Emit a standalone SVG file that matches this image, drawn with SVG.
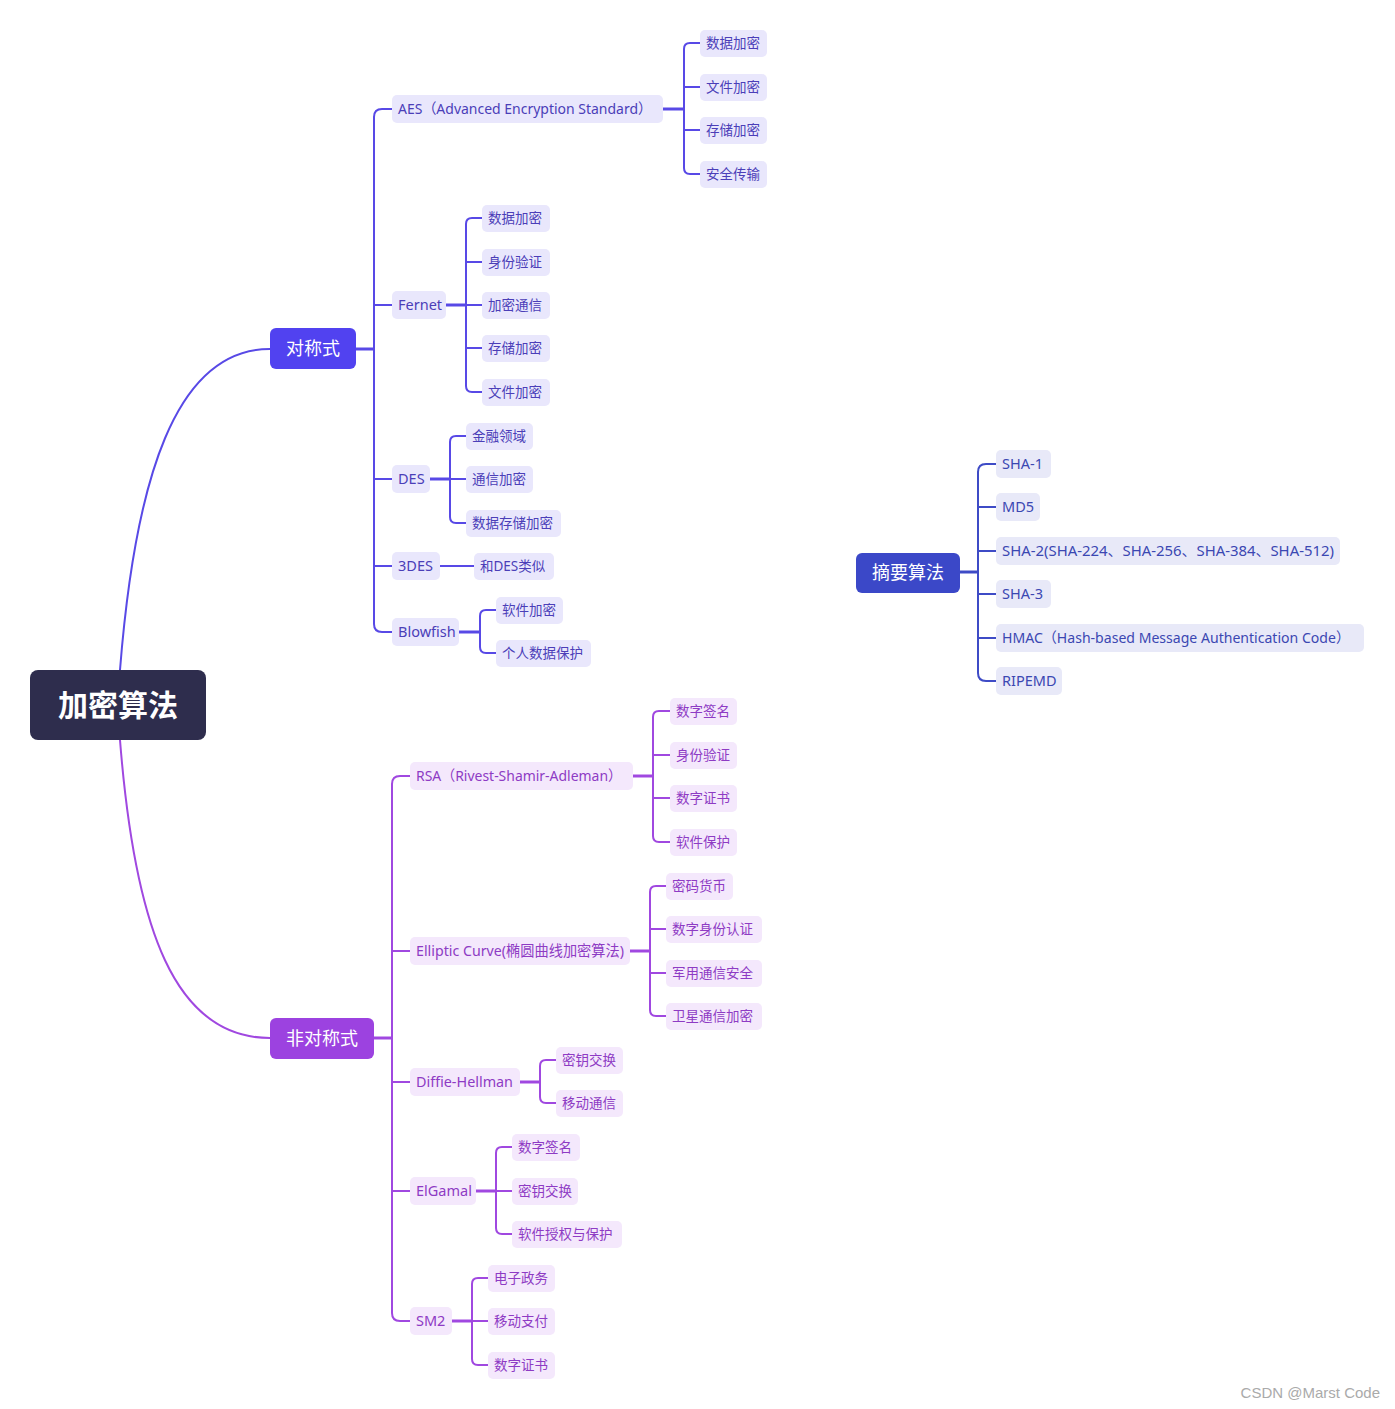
<svg xmlns="http://www.w3.org/2000/svg" width="1395" height="1409" viewBox="0 0 1395 1409">
<style>
text{font-family:"Noto Sans","Noto Sans CJK SC",sans-serif;dominant-baseline:central;transform:translateY(-1px)}
.l1{font-size:18px;fill:#fff}
.l2{font-size:14.5px}
.lf{font-size:13.5px}
.sb{fill:#e9e7fc}.st{fill:#4b3eb8}
.ab{fill:#f4e8fc}.at{fill:#8e3bc4}
.db{fill:#e8e9f8}.dt{fill:#3b47b2}
.cs{fill:none;stroke:#5849e6;stroke-width:2}
.ca{fill:none;stroke:#a048e0;stroke-width:2}
.cd{fill:none;stroke:#3e4bc6;stroke-width:2}
.stem{stroke-width:3}
</style>
<rect width="1395" height="1409" fill="#fff"/>
<g id="connectors">
<path class="cs" stroke-width="2.5" d="M120,670 C135,480 175,349 270,349"/>
<path class="ca" stroke-width="2.5" d="M120,740 C135,930 175,1038 270,1038"/>
<path class="cs stem" d="M356,349 H374"/>
<path class="cs" d="M392,109 H382 Q374,109 374,117 V624 Q374,632 382,632 H392 M374,305 H392 M374,479 H392 M374,566 H392"/>
<path class="cs stem" d="M663,109 H684"/>
<path class="cs" d="M700,43 H690 Q684,43 684,49 V168 Q684,174 690,174 H700 M684,87 H700 M684,130 H700"/>
<path class="cs stem" d="M446,305 H466"/>
<path class="cs" d="M482,218 H472 Q466,218 466,224 V386 Q466,392 472,392 H482 M466,262 H482 M466,305 H482 M466,348 H482"/>
<path class="cs stem" d="M430,479 H450"/>
<path class="cs" d="M466,436 H456 Q450,436 450,442 V517 Q450,523 456,523 H466 M450,479 H466"/>
<path class="cs" d="M440,566 H474"/>
<path class="cs stem" d="M459,632 H480"/>
<path class="cs" d="M496,610 H486 Q480,610 480,616 V647 Q480,653 486,653 H496"/>
<path class="ca stem" d="M374,1038 H392"/>
<path class="ca" d="M410,776 H400 Q392,776 392,784 V1313 Q392,1321 400,1321 H410 M392,951 H410 M392,1082 H410 M392,1191 H410"/>
<path class="ca stem" d="M633,776 H653"/>
<path class="ca" d="M670,711 H659 Q653,711 653,717 V836 Q653,842 659,842 H670 M653,755 H670 M653,798 H670"/>
<path class="ca stem" d="M630,951 H650"/>
<path class="ca" d="M666,886 H656 Q650,886 650,892 V1010 Q650,1016 656,1016 H666 M650,929 H666 M650,973 H666"/>
<path class="ca stem" d="M520,1082 H540"/>
<path class="ca" d="M556,1060 H546 Q540,1060 540,1066 V1097 Q540,1103 546,1103 H556"/>
<path class="ca stem" d="M476,1191 H496"/>
<path class="ca" d="M512,1147 H502 Q496,1147 496,1153 V1228 Q496,1234 502,1234 H512 M496,1191 H512"/>
<path class="ca stem" d="M452,1321 H472"/>
<path class="ca" d="M488,1278 H478 Q472,1278 472,1284 V1359 Q472,1365 478,1365 H488 M472,1321 H488"/>
<path class="cd stem" d="M960,572 H978"/>
<path class="cd" d="M996,464 H986 Q978,464 978,472 V673 Q978,681 986,681 H996 M978,507 H996 M978,551 H996 M978,594 H996 M978,638 H996"/>
</g>
<g id="root"><rect x="30" y="670" width="176" height="70" rx="8" fill="#2e2d4d"/><text x="118" y="705" text-anchor="middle" font-size="30" font-weight="bold" fill="#fff">加密算法</text></g>
<g id="sym"><rect x="270" y="328" width="86" height="41" rx="6" fill="#5142f0"/><text class="l1" x="313" y="348.5" text-anchor="middle">对称式</text></g>
<g id="asym"><rect x="270" y="1018" width="104" height="41" rx="6" fill="#9c42e0"/><text class="l1" x="322" y="1038.5" text-anchor="middle">非对称式</text></g>
<g id="digest"><rect x="856" y="553" width="104" height="40" rx="6" fill="#3b48c8"/><text class="l1" x="908" y="573" text-anchor="middle">摘要算法</text></g>

<g id="aes"><rect class="sb" x="392" y="95" width="271" height="28" rx="5"/><text class="l2 st" x="398" y="109" textLength="254" lengthAdjust="spacingAndGlyphs">AES（Advanced Encryption Standard）</text></g>
<g id="aes1"><rect class="sb" x="700" y="30" width="67" height="27" rx="5"/><text class="lf st" x="706" y="43.5">数据加密</text></g>
<g id="aes2"><rect class="sb" x="700" y="74" width="67" height="27" rx="5"/><text class="lf st" x="706" y="87.5">文件加密</text></g>
<g id="aes3"><rect class="sb" x="700" y="117" width="67" height="27" rx="5"/><text class="lf st" x="706" y="130.5">存储加密</text></g>
<g id="aes4"><rect class="sb" x="700" y="161" width="67" height="27" rx="5"/><text class="lf st" x="706" y="174.5">安全传输</text></g>

<g id="fernet"><rect class="sb" x="392" y="291" width="54" height="28" rx="5"/><text class="l2 st" x="398" y="305">Fernet</text></g>
<g id="fer1"><rect class="sb" x="482" y="205" width="68" height="27" rx="5"/><text class="lf st" x="488" y="218.5">数据加密</text></g>
<g id="fer2"><rect class="sb" x="482" y="249" width="68" height="27" rx="5"/><text class="lf st" x="488" y="262.5">身份验证</text></g>
<g id="fer3"><rect class="sb" x="482" y="292" width="68" height="27" rx="5"/><text class="lf st" x="488" y="305.5">加密通信</text></g>
<g id="fer4"><rect class="sb" x="482" y="335" width="68" height="27" rx="5"/><text class="lf st" x="488" y="348.5">存储加密</text></g>
<g id="fer5"><rect class="sb" x="482" y="379" width="68" height="27" rx="5"/><text class="lf st" x="488" y="392.5">文件加密</text></g>

<g id="des"><rect class="sb" x="392" y="465" width="38" height="28" rx="5"/><text class="l2 st" x="398" y="479">DES</text></g>
<g id="des1"><rect class="sb" x="466" y="423" width="67" height="27" rx="5"/><text class="lf st" x="472" y="436.5">金融领域</text></g>
<g id="des2"><rect class="sb" x="466" y="466" width="67" height="27" rx="5"/><text class="lf st" x="472" y="479.5">通信加密</text></g>
<g id="des3"><rect class="sb" x="466" y="510" width="95" height="27" rx="5"/><text class="lf st" x="472" y="523.5">数据存储加密</text></g>

<g id="tdes"><rect class="sb" x="392" y="552" width="48" height="28" rx="5"/><text class="l2 st" x="398" y="566">3DES</text></g>
<g id="tdes1"><rect class="sb" x="474" y="553" width="80" height="27" rx="5"/><text class="lf st" x="480" y="566.5">和DES类似</text></g>

<g id="blowfish"><rect class="sb" x="392" y="618" width="67" height="28" rx="5"/><text class="l2 st" x="398" y="632">Blowfish</text></g>
<g id="bf1"><rect class="sb" x="496" y="597" width="67" height="27" rx="5"/><text class="lf st" x="502" y="610.5">软件加密</text></g>
<g id="bf2"><rect class="sb" x="496" y="640" width="95" height="27" rx="5"/><text class="lf st" x="502" y="653.5">个人数据保护</text></g>

<g id="rsa"><rect class="ab" x="410" y="762" width="223" height="28" rx="5"/><text class="l2 at" x="416" y="776" textLength="206" lengthAdjust="spacingAndGlyphs">RSA（Rivest-Shamir-Adleman）</text></g>
<g id="rsa1"><rect class="ab" x="670" y="698" width="67" height="27" rx="5"/><text class="lf at" x="676" y="711.5">数字签名</text></g>
<g id="rsa2"><rect class="ab" x="670" y="742" width="67" height="27" rx="5"/><text class="lf at" x="676" y="755.5">身份验证</text></g>
<g id="rsa3"><rect class="ab" x="670" y="785" width="67" height="27" rx="5"/><text class="lf at" x="676" y="798.5">数字证书</text></g>
<g id="rsa4"><rect class="ab" x="670" y="829" width="67" height="27" rx="5"/><text class="lf at" x="676" y="842.5">软件保护</text></g>

<g id="ec"><rect class="ab" x="410" y="937" width="220" height="28" rx="5"/><text class="l2 at" x="416" y="951" textLength="208" lengthAdjust="spacingAndGlyphs">Elliptic Curve(椭圆曲线加密算法)</text></g>
<g id="ec1"><rect class="ab" x="666" y="873" width="67" height="27" rx="5"/><text class="lf at" x="672" y="886.5">密码货币</text></g>
<g id="ec2"><rect class="ab" x="666" y="916" width="96" height="27" rx="5"/><text class="lf at" x="672" y="929.5">数字身份认证</text></g>
<g id="ec3"><rect class="ab" x="666" y="960" width="96" height="27" rx="5"/><text class="lf at" x="672" y="973.5">军用通信安全</text></g>
<g id="ec4"><rect class="ab" x="666" y="1003" width="96" height="27" rx="5"/><text class="lf at" x="672" y="1016.5">卫星通信加密</text></g>

<g id="dh"><rect class="ab" x="410" y="1068" width="110" height="28" rx="5"/><text class="l2 at" x="416" y="1082" textLength="97" lengthAdjust="spacingAndGlyphs">Diffie-Hellman</text></g>
<g id="dh1"><rect class="ab" x="556" y="1047" width="67" height="27" rx="5"/><text class="lf at" x="562" y="1060.5">密钥交换</text></g>
<g id="dh2"><rect class="ab" x="556" y="1090" width="67" height="27" rx="5"/><text class="lf at" x="562" y="1103.5">移动通信</text></g>

<g id="elgamal"><rect class="ab" x="410" y="1177" width="66" height="28" rx="5"/><text class="l2 at" x="416" y="1191">ElGamal</text></g>
<g id="eg1"><rect class="ab" x="512" y="1134" width="68" height="27" rx="5"/><text class="lf at" x="518" y="1147.5">数字签名</text></g>
<g id="eg2"><rect class="ab" x="512" y="1178" width="66" height="27" rx="5"/><text class="lf at" x="518" y="1191.5">密钥交换</text></g>
<g id="eg3"><rect class="ab" x="512" y="1221" width="110" height="27" rx="5"/><text class="lf at" x="518" y="1234.5">软件授权与保护</text></g>

<g id="sm2"><rect class="ab" x="410" y="1307" width="42" height="28" rx="5"/><text class="l2 at" x="416" y="1321">SM2</text></g>
<g id="sm21"><rect class="ab" x="488" y="1265" width="67" height="27" rx="5"/><text class="lf at" x="494" y="1278.5">电子政务</text></g>
<g id="sm22"><rect class="ab" x="488" y="1308" width="67" height="27" rx="5"/><text class="lf at" x="494" y="1321.5">移动支付</text></g>
<g id="sm23"><rect class="ab" x="488" y="1352" width="67" height="27" rx="5"/><text class="lf at" x="494" y="1365.5">数字证书</text></g>

<g id="sha1"><rect class="db" x="996" y="450" width="55" height="28" rx="5"/><text class="l2 dt" x="1002" y="464">SHA-1</text></g>
<g id="md5"><rect class="db" x="996" y="493" width="44" height="28" rx="5"/><text class="l2 dt" x="1002" y="507">MD5</text></g>
<g id="sha2"><rect class="db" x="996" y="537" width="344" height="28" rx="5"/><text class="l2 dt" x="1002" y="551" textLength="332" lengthAdjust="spacingAndGlyphs">SHA-2(SHA-224、SHA-256、SHA-384、SHA-512)</text></g>
<g id="sha3"><rect class="db" x="996" y="580" width="55" height="28" rx="5"/><text class="l2 dt" x="1002" y="594">SHA-3</text></g>
<g id="hmac"><rect class="db" x="996" y="624" width="368" height="28" rx="5"/><text class="l2 dt" x="1002" y="638" textLength="348" lengthAdjust="spacingAndGlyphs">HMAC（Hash-based Message Authentication Code）</text></g>
<g id="ripemd"><rect class="db" x="996" y="667" width="66" height="28" rx="5"/><text class="l2 dt" x="1002" y="681">RIPEMD</text></g>

<text x="1380" y="1393" text-anchor="end" font-size="15" fill="#aaa" style="font-family:'Liberation Sans',sans-serif">CSDN @Marst Code</text>
</svg>
